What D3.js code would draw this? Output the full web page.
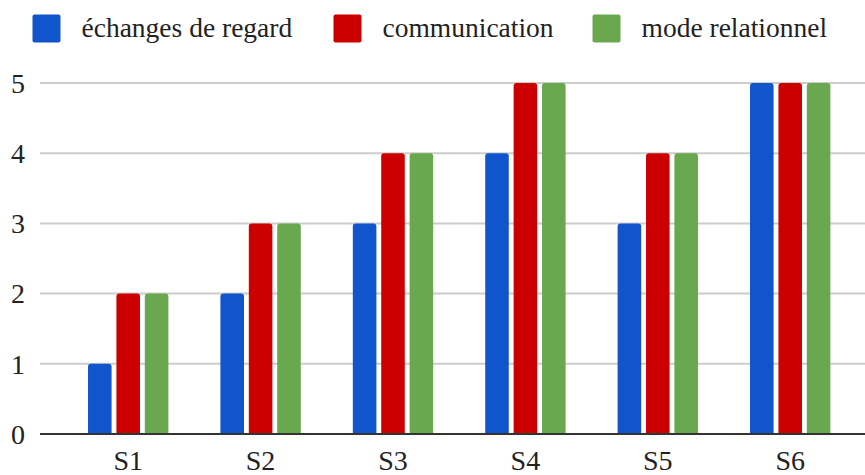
<!DOCTYPE html>
<html>
<head>
<meta charset="utf-8">
<script src="https://cdn.jsdelivr.net/npm/d3@7"></script>
<style>
  html, body { margin: 0; padding: 0; background: #fff; }
  svg { display: block; }
</style>
</head>
<body>
<svg id="chart" width="865" height="475"></svg>
<script>
// Sessions and the three scores recorded for each one
const categories = ["S1", "S2", "S3", "S4", "S5", "S6"];
const seriesNames = ["échanges de regard", "communication", "mode relationnel"];
const echangesRegard = [1, 2, 3, 4, 3, 5];
const communication = [2, 3, 4, 5, 4, 5];
const modeRelationnel = [2, 3, 4, 5, 4, 5];
const yTicks = [0, 1, 2, 3, 4, 5];
const colors = ["#1155cc", "#cc0000", "#6aa84f"];

const seriesValues = [echangesRegard, communication, modeRelationnel];
const FONT = "'Liberation Serif'";

const svg = d3.select("#chart");
const W = 865;

const y = d3.scaleLinear().domain([0, 5]).range([434, 83]);

const x = d3.scaleBand()
  .domain(categories)
  .range([62, 856.4])
  .paddingInner(0.393)
  .paddingOuter(0.1965);

const xSub = d3.scaleBand()
  .domain(seriesNames)
  .range([0, x.bandwidth()])
  .paddingInner(0.17)
  .paddingOuter(0);

// Horizontal gridlines
svg.append("g")
  .selectAll("line")
  .data(yTicks.filter(d => d > 0))
  .join("line")
  .attr("x1", 40).attr("x2", W)
  .attr("y1", d => y(d)).attr("y2", d => y(d))
  .attr("stroke", "#cccccc")
  .attr("stroke-width", 2);

// Y tick labels
svg.append("g")
  .selectAll("text")
  .data(yTicks)
  .join("text")
  .attr("x", 25)
  .attr("y", d => y(d))
  .attr("dy", "0.35em")
  .attr("text-anchor", "end")
  .attr("font-family", FONT)
  .attr("font-size", 28)
  .attr("fill", "#222")
  .text(d => d);

// Bars with slightly rounded top corners
function barPath(x0, w, yTop, yBase, r) {
  r = Math.min(r, w / 2, yBase - yTop);
  return `M${x0},${yBase}V${yTop + r}Q${x0},${yTop} ${x0 + r},${yTop}` +
         `H${x0 + w - r}Q${x0 + w},${yTop} ${x0 + w},${yTop + r}V${yBase}Z`;
}

const rows = [];
categories.forEach((c, i) => {
  seriesNames.forEach((s, j) => {
    rows.push({ cat: c, series: s, value: seriesValues[j][i], color: colors[j] });
  });
});

svg.append("g")
  .selectAll("path")
  .data(rows)
  .join("path")
  .attr("d", d => barPath(x(d.cat) + xSub(d.series), xSub.bandwidth(), y(d.value), y(0), 3))
  .attr("fill", d => d.color);

// Baseline axis
svg.append("line")
  .attr("x1", 40).attr("x2", W)
  .attr("y1", y(0)).attr("y2", y(0))
  .attr("stroke", "#333333")
  .attr("stroke-width", 2);

// Category labels
svg.append("g")
  .selectAll("text")
  .data(categories)
  .join("text")
  .attr("x", d => x(d) + x.bandwidth() / 2)
  .attr("y", 470)
  .attr("text-anchor", "middle")
  .attr("font-family", FONT)
  .attr("font-size", 28)
  .attr("fill", "#222")
  .text(d => d);

// Legend
const legendX = [32.5, 333.5, 592.5];
const legend = svg.append("g")
  .selectAll("g")
  .data(seriesNames)
  .join("g")
  .attr("transform", (d, i) => `translate(${legendX[i]},0)`);

legend.append("rect")
  .attr("x", 0).attr("y", 14.5)
  .attr("width", 28).attr("height", 28)
  .attr("rx", 2)
  .attr("fill", (d, i) => colors[i]);

legend.append("text")
  .attr("x", 49)
  .attr("y", 37)
  .attr("font-family", FONT)
  .attr("font-size", 27.5)
  .attr("fill", "#222")
  .text(d => d);
</script>
</body>
</html>
